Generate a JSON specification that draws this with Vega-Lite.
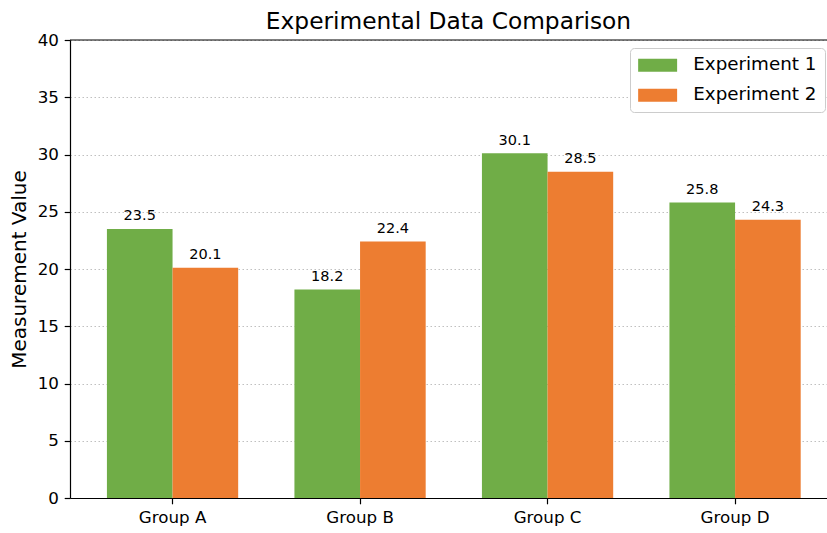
{
  "$schema": "https://vega.github.io/schema/vega-lite/v6.json",
  "width": 757,
  "height": 458,
  "autosize": {"type": "none"},
  "padding": {"left": 70, "top": 40, "right": 0, "bottom": 35},
  "background": "white",
  "config": {
    "font": "DejaVu Sans",
    "view": {"stroke": null}
  },
  "title": {
    "text": "Experimental Data Comparison",
    "fontSize": 23.3,
    "fontWeight": "normal",
    "color": "#000",
    "baseline": "alphabetic",
    "offset": -20,
    "anchor": "middle"
  },
  "data": {
    "values": [
      {"group": "Group A", "experiment": "Experiment 1", "value": 23.5},
      {"group": "Group A", "experiment": "Experiment 2", "value": 20.1},
      {"group": "Group B", "experiment": "Experiment 1", "value": 18.2},
      {"group": "Group B", "experiment": "Experiment 2", "value": 22.4},
      {"group": "Group C", "experiment": "Experiment 1", "value": 30.1},
      {"group": "Group C", "experiment": "Experiment 2", "value": 28.5},
      {"group": "Group D", "experiment": "Experiment 1", "value": 25.8},
      {"group": "Group D", "experiment": "Experiment 2", "value": 24.3}
    ]
  },
  "layer": [
    {
      "mark": {"type": "bar"},
      "encoding": {
        "x": {
          "field": "group",
          "type": "nominal",
          "scale": {"paddingInner": 0.3, "paddingOuter": 0.1686, "align": 0.584},
          "axis": {
            "title": null,
            "labelAngle": 0,
            "labelFontSize": 16.7,
            "labelColor": "#000",
            "labelPadding": 5.8,
            "tickSize": 5.8,
            "tickColor": "#000",
            "tickWidth": 1.2,
            "domainColor": "#000",
            "domainWidth": 1.2,
            "grid": false
          }
        },
        "xOffset": {"field": "experiment", "type": "nominal", "scale": {"paddingInner": 0, "paddingOuter": 0}},
        "y": {
          "field": "value",
          "type": "quantitative",
          "scale": {"domain": [0, 40], "nice": false},
          "axis": {
            "title": "Measurement Value",
            "titleFontSize": 20,
            "titleFontWeight": "normal",
            "titleColor": "#000",
            "titlePadding": 8,
            "labelFontSize": 16.7,
            "labelColor": "#000",
            "labelPadding": 5.8,
            "tickSize": 5.8,
            "tickColor": "#000",
            "tickWidth": 1.2,
            "domainColor": "#000",
            "domainWidth": 1.2,
            "values": [0, 5, 10, 15, 20, 25, 30, 35, 40],
            "grid": true,
            "gridDash": [1.5, 2.5],
            "gridColor": "#b0b0b0",
            "gridOpacity": 0.8
          }
        },
        "color": {
          "field": "experiment",
          "type": "nominal",
          "scale": {"domain": ["Experiment 1", "Experiment 2"], "range": ["#70AD47", "#ED7D31"]},
          "legend": {
            "title": null,
            "orient": "none",
            "legendX": 560,
            "legendY": 8,
            "symbolType": "M-1,-0.722L3.33,-0.722L3.33,0.722L-1,0.722Z",
            "symbolSize": 324,
            "symbolStrokeWidth": 0,
            "labelFontSize": 18.3,
            "labelColor": "#000",
            "labelOffset": 37,
            "padding": 8,
            "rowPadding": 11,
            "strokeColor": "#cccccc",
            "fillColor": "white",
            "cornerRadius": 4
          }
        }
      }
    },
    {
      "mark": {"type": "text", "baseline": "alphabetic", "dy": -8.5, "fontSize": 14.5, "color": "#000"},
      "encoding": {
        "x": {"field": "group", "type": "nominal"},
        "xOffset": {"field": "experiment", "type": "nominal"},
        "y": {"field": "value", "type": "quantitative"},
        "text": {"field": "value", "type": "quantitative", "format": ".1f"}
      }
    },
    {
      "data": {"values": [{"top": 40}]},
      "mark": {"type": "rule", "color": "#000", "strokeWidth": 1.2},
      "encoding": {"y": {"field": "top", "type": "quantitative"}}
    }
  ]
}
